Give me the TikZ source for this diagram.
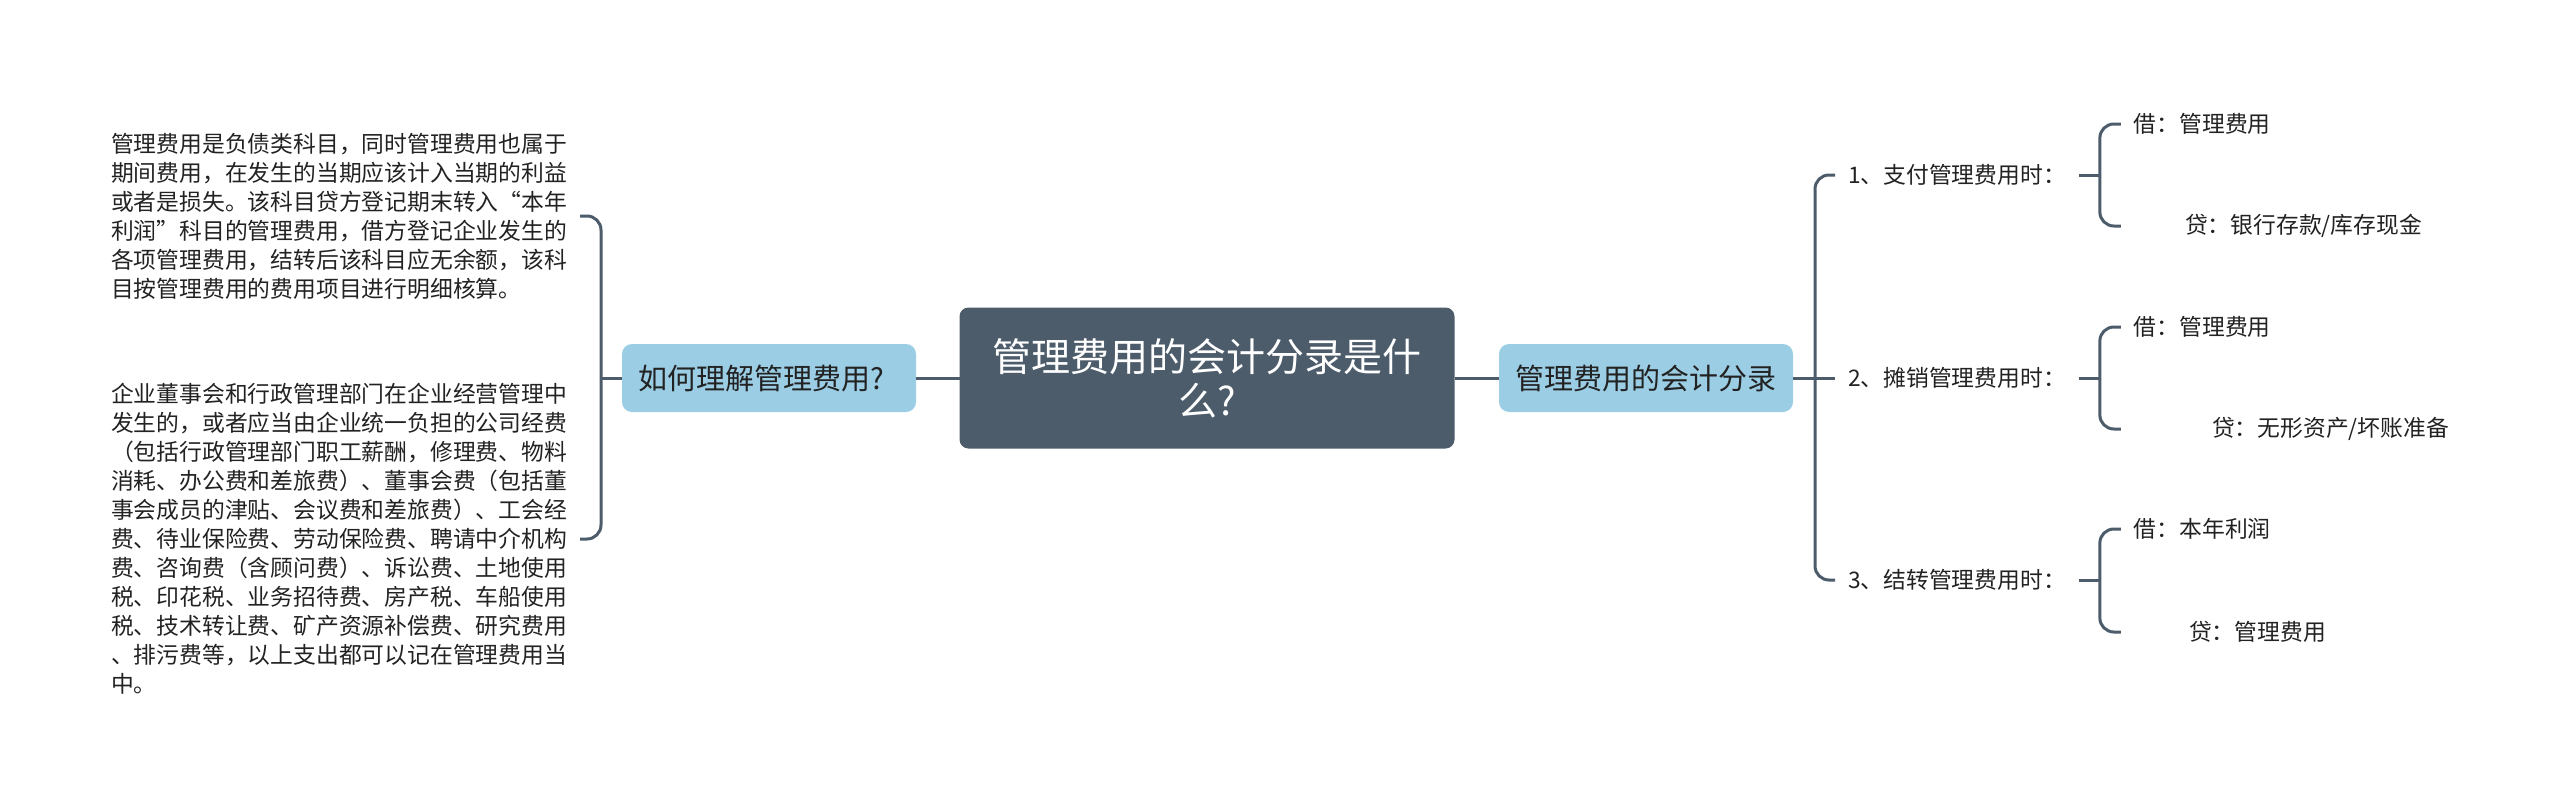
\documentclass[tikz,border=0pt]{standalone}
\usepackage{fontspec}
\setmainfont{Noto Sans CJK SC}
\usetikzlibrary{positioning,calc}
\definecolor{rootfill}{RGB}{76,92,107}
\definecolor{topicfill}{RGB}{155,205,228}
\definecolor{linkcol}{RGB}{76,92,107}
\definecolor{txtcol}{RGB}{34,34,34}

\begin{document}
\begin{tikzpicture}[x=1pt,y=-1pt,
  every node/.style={inner sep=0pt,outer sep=0pt,text=txtcol},
  rootnode/.style={fill=rootfill,rounded corners=9pt,minimum width=495pt,
    minimum height=141pt,align=center,text=white,
    font=\fontsize{39}{44}\selectfont},
  topicnode/.style={fill=topicfill,rounded corners=10pt,minimum width=294pt,
    minimum height=68pt,text width=262pt,align=left,
    font=\fontsize{29}{35}\selectfont},
  leafnode/.style={inner xsep=13pt,align=left,
    font=\fontsize{22.8}{29}\selectfont},
  link/.style={draw=linkcol,line width=3pt},
  hook/.style={link,rounded corners=14pt},
]
\useasboundingbox (0,0) rectangle (2560,811);

% the main topic
\node[rootnode] (root) at (1207,378) {管理费用的会计分录是什\\么?};

% the two topics
\node[topicnode] (why) at (769,378) {如何理解管理费用?};
\node[topicnode] (entry) at (1646,378) {管理费用的会计分录};

\draw[link] (root.west) -- (why.east);
\draw[link] (root.east) -- (entry.west);

% the notes on the left
\node[leafnode,anchor=east] (note1) at (580,216) {管理费用是负债类科目，同时管理费用也属于\\
期间费用，在发生的当期应该计入当期的利益\\
或者是损失。该科目贷方登记期末转入“本年\\
利润”科目的管理费用，借方登记企业发生的\\
各项管理费用，结转后该科目应无余额，该科\\
目按管理费用的费用项目进行明细核算。};
\node[leafnode,anchor=east] (note2) at (580,539) {企业董事会和行政管理部门在企业经营管理中\\
发生的，或者应当由企业统一负担的公司经费\\
（包括行政管理部门职工薪酬，修理费、物料\\
消耗、办公费和差旅费）、董事会费（包括董\\
事会成员的津贴、会议费和差旅费）、工会经\\
费、待业保险费、劳动保险费、聘请中介机构\\
费、咨询费（含顾问费）、诉讼费、土地使用\\
税、印花税、业务招待费、房产税、车船使用\\
税、技术转让费、矿产资源补偿费、研究费用\\
、排污费等，以上支出都可以记在管理费用当\\
中。};

\draw[link] (why.west) -- ++(-21,0) coordinate (lfork);
\draw[hook] (note1.east) -| (lfork);
\draw[hook] (note2.east) -| (lfork);

% the three steps on the right
\coordinate[right=22pt of entry.east] (rfork);
\foreach \i/\y/\how in {1/175/支付,2/378/摊销,3/580/结转}
{
\node[leafnode,anchor=west] (step\i) at (1835,\y) {\i、\how 管理费用时：};
\draw[link] (step\i.east) -- ++(21,0) coordinate (fork\i);
}

\draw[link] (entry.east) -- (step2.west);
\draw[hook] (step1.west) -| (rfork);
\draw[hook] (step3.west) -| (rfork);

% debit and credit
\node[leafnode,anchor=west] (debit1) at ($(fork1)+(21,-51)$) {借：管理费用};
\node[leafnode,anchor=west] (credit1) at (2172,226) {贷：银行存款/库存现金};
\node[leafnode,anchor=west] (debit2) at ($(fork2)+(21,-51)$) {借：管理费用};
\node[leafnode,anchor=west] (credit2) at (2199,429) {贷：无形资产/坏账准备};
\node[leafnode,anchor=west] (debit3) at ($(fork3)+(21,-51)$) {借：本年利润};
\node[leafnode,anchor=west] (credit3) at (2176,632) {贷：管理费用};

\foreach \i in {1,2,3}
{
\draw[hook] (fork\i) |- (debit\i.west);
\draw[hook] (fork\i) |- (debit\i.west |- credit\i.west);
}
\end{tikzpicture}
\end{document}
